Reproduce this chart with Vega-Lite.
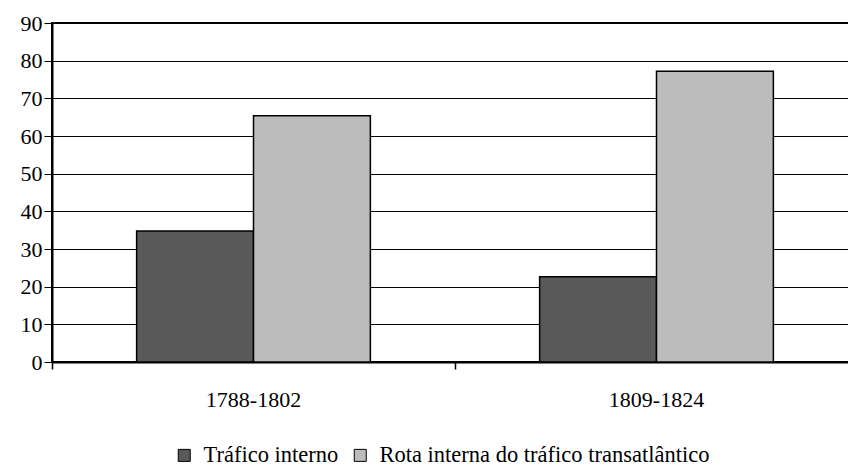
{
  "$schema": "https://vega.github.io/schema/vega-lite/v6.json",
  "width": 806,
  "height": 339,
  "autosize": {"type": "none"},
  "padding": {"left": 52, "top": 23, "right": 0, "bottom": 107},
  "background": "white",
  "config": {
    "font": "Liberation Serif",
    "view": {"stroke": "#000", "strokeWidth": 2},
    "axis": {"labelFont": "Liberation Serif"},
    "legend": {"labelFont": "Liberation Serif"}
  },
  "data": {
    "values": [
      {"period": "1788-1802", "serie": "Tráfico interno", "value": 34.8},
      {"period": "1788-1802", "serie": "Rota interna do tráfico transatlântico", "value": 65.4},
      {"period": "1809-1824", "serie": "Tráfico interno", "value": 22.6},
      {"period": "1809-1824", "serie": "Rota interna do tráfico transatlântico", "value": 77.2}
    ]
  },
  "mark": {"type": "bar", "stroke": "#000", "strokeWidth": 1.5},
  "encoding": {
    "x": {
      "field": "period",
      "type": "nominal",
      "scale": {"paddingInner": 0.42, "paddingOuter": 0.21},
      "axis": {
        "title": null,
        "labelAngle": 0,
        "labelFont": "Liberation Serif",
        "labelFontSize": 22,
        "labelColor": "#000",
        "labelPadding": 20,
        "tickSize": 7,
        "tickColor": "#000",
        "tickWidth": 1.5,
        "bandPosition": -0.362,
        "domainColor": "#000",
        "domainWidth": 2,
        "grid": false
      }
    },
    "xOffset": {
      "field": "serie",
      "type": "nominal",
      "sort": ["Tráfico interno", "Rota interna do tráfico transatlântico"]
    },
    "y": {
      "field": "value",
      "type": "quantitative",
      "scale": {"domain": [0, 90], "nice": false},
      "axis": {
        "title": null,
        "values": [0, 10, 20, 30, 40, 50, 60, 70, 80, 90],
        "grid": true,
        "gridColor": "#000",
        "gridWidth": 1,
        "gridOpacity": 1,
        "tickSize": 8,
        "tickColor": "#000",
        "labelFont": "Liberation Serif",
        "labelFontSize": 22,
        "labelColor": "#000",
        "labelPadding": 2,
        "domainColor": "#000",
        "domainWidth": 2
      }
    },
    "color": {
      "field": "serie",
      "type": "nominal",
      "scale": {
        "domain": ["Tráfico interno", "Rota interna do tráfico transatlântico"],
        "range": ["#595959", "#bcbcbc"]
      },
      "legend": {
        "orient": "none",
        "legendX": 121,
        "legendY": 421,
        "direction": "horizontal",
        "title": null,
        "symbolType": "square",
        "symbolSize": 144,
        "symbolStrokeColor": "#000",
        "symbolStrokeWidth": 1,
        "labelFont": "Liberation Serif",
        "labelFontSize": 22.5,
        "labelColor": "#000",
        "labelLimit": 700,
        "labelOffset": 8,
        "columnPadding": 10
      }
    }
  }
}
